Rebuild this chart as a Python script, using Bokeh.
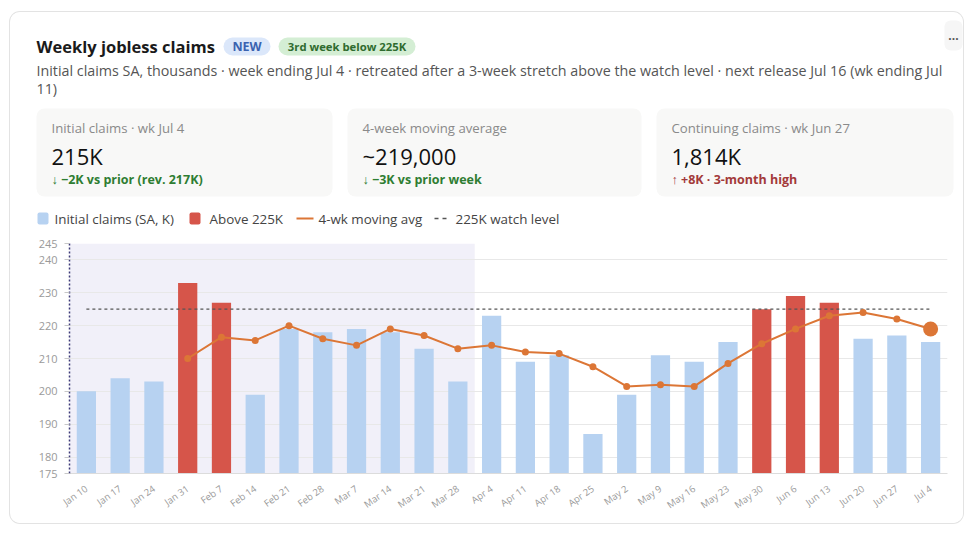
import math
from bokeh.plotting import figure
from bokeh.layouts import column
from bokeh.models import (FactorRange, Range1d, FixedTicker, BoxAnnotation, Label)
from bokeh.embed import file_html
from bokeh.resources import INLINE

# ---------------- data ----------------
weeks = ["Jan 10", "Jan 17", "Jan 24", "Jan 31", "Feb 7", "Feb 14", "Feb 21", "Feb 28",
         "Mar 7", "Mar 14", "Mar 21", "Mar 28", "Apr 4", "Apr 11", "Apr 18", "Apr 25",
         "May 2", "May 9", "May 16", "May 23", "May 30", "Jun 6", "Jun 13", "Jun 20",
         "Jun 27", "Jul 4"]
claims = [200, 204, 203, 233, 227, 199, 219, 218, 219, 218, 213, 203, 223, 209, 211, 187,
          199, 211, 209, 215, 225, 229, 227, 216, 217, 215]
ma_weeks = weeks[3:]
moving_avg = [210, 216.5, 215.5, 220, 216, 214, 219, 217, 213, 214, 212, 211.5, 207.5,
              201.5, 202, 201.5, 208.5, 214.5, 219, 223, 224, 222, 219]
watch_level = 225
y_ticks = [175, 180, 190, 200, 210, 220, 230, 240, 245]
shaded_through = "Mar 28"

legend_labels = ["Initial claims (SA, K)", "Above 225K", "4-wk moving avg", "225K watch level"]

FONT = "Open Sans"
BLUE = "#b7d2f1"
RED = "#d6554a"
ORANGE = "#dc7636"

# ---------------- header (page pixel coordinates) ----------------
CARD_L, CARD_T, CARD_R, CARD_B = 10, 12, 963, 523
HEAD_B = 232

h = figure(width=CARD_R - CARD_L, height=HEAD_B - CARD_T,
           x_range=Range1d(CARD_L, CARD_R), y_range=Range1d(HEAD_B, CARD_T),
           x_axis_type=None, y_axis_type=None, output_backend="svg", toolbar_location=None,
           min_border=0, min_border_left=0, min_border_right=0, min_border_top=0,
           min_border_bottom=0, outline_line_color=None, frame_align=False,
           background_fill_color="white", border_fill_color="white")
h.grid.visible = False


def box(l, t, r, b, fill=None, line=None, radius=8):
    h.add_layout(BoxAnnotation(left=l, right=r, top=t, bottom=b,
                               fill_color=fill, fill_alpha=1 if fill else 0,
                               line_color=line, border_radius=radius, level="underlay"))


def label(x, y, text, size, color="#222222", style="normal", align="left"):
    h.add_layout(Label(x=x, y=y, text=text, text_font=FONT, text_font_size=size,
                       text_color=color, text_font_style=style, text_align=align,
                       text_baseline="middle"))


label(36, 46, "Weekly jobless claims", "16.5px", "#1a1a1a", "bold")
box(223, 37, 270, 55, fill="#dbe7fa", radius=9)
label(246.5, 46, "NEW", "12.5px", "#3a62b0", "bold", "center")
box(278, 37, 415, 55, fill="#d4eed4", radius=9)
label(346.5, 46, "3rd week below 225K", "11.3px", "#2f6b2f", "bold", "center")
box(944, 20, 962, 50, fill="#f6f6f6", radius=6)
label(953, 35, "...", "12px", "#555555", "bold", "center")
label(36, 70, "Initial claims SA, thousands \u00b7 week ending Jul 4 \u00b7 retreated after a 3-week "
      "stretch above the watch level \u00b7 next release Jul 16 (wk ending Jul", "14.3px", "#555555")
label(36, 88, "11)", "14.3px", "#555555")

cards = [(36, 332, "Initial claims \u00b7 wk Jul 4", "215K",
          "\u2193 \u22122K vs prior (rev. 217K)", "#2e7d32"),
         (347, 641, "4-week moving average", "~219,000",
          "\u2193 \u22123K vs prior week", "#2e7d32"),
         (656, 953, "Continuing claims \u00b7 wk Jun 27", "1,814K",
          "\u2191 +8K \u00b7 3-month high", "#a33a3a")]
for l, r, t1, t2, t3, c3 in cards:
    box(l, 108, r, 196, fill="#f8f8f7", radius=8)
    label(l + 15, 127, t1, "13.2px", "#8a8a8a")
    label(l + 15, 155, t2, "22px", "#111111")
    label(l + 15, 179, t3, "12.5px", c3, "bold")

# legend swatches
LY = 218
box(37, LY - 6, 48, LY + 6, fill=BLUE, radius=2)
label(54, LY, legend_labels[0], "13.4px", "#444444")
box(189, LY - 6, 200, LY + 6, fill=RED, radius=2)
label(209, LY, legend_labels[1], "13.4px", "#444444")
h.line(x=[296, 313], y=[LY, LY], line_color=ORANGE, line_width=2)
label(318, LY, legend_labels[2], "13.4px", "#444444")
h.line(x=[434, 446], y=[LY, LY], line_color="#555555", line_width=1.3, line_dash="4 4")
label(455, LY, legend_labels[3], "13.4px", "#444444")

# ---------------- chart ----------------
FRAME_L, FRAME_T, FRAME_R, FRAME_B = 69, 243, 947, 473

p = figure(x_range=FactorRange(factors=weeks), y_range=Range1d(175, 245),
           width=CARD_R - CARD_L, height=CARD_B - HEAD_B,
           output_backend="svg", toolbar_location=None, frame_align=False,
           min_border_left=FRAME_L - CARD_L, min_border_right=CARD_R - FRAME_R,
           min_border_top=FRAME_T - HEAD_B, min_border_bottom=CARD_B - FRAME_B,
           background_fill_color="white", border_fill_color="white", outline_line_color=None)

band = BoxAnnotation(right=weeks.index(shaded_through) + 1, fill_color="#f1f0f9", fill_alpha=1,
                     line_color=None, level="image")
p.add_layout(band)

blue_w = [w for w, c in zip(weeks, claims) if c < watch_level]
blue_c = [c for c in claims if c < watch_level]
red_w = [w for w, c in zip(weeks, claims) if c >= watch_level]
red_c = [c for c in claims if c >= watch_level]

p.vbar(x=blue_w, top=blue_c, bottom=175, width=0.57, fill_color=BLUE, line_color=None)
p.vbar(x=red_w, top=red_c, bottom=175, width=0.57, fill_color=RED, line_color=None)

p.line(x=[weeks[0], weeks[-1]], y=[watch_level, watch_level], line_color="#555555",
       line_width=1.3, line_dash="3 3")

p.line(x=ma_weeks, y=moving_avg, line_color=ORANGE, line_width=2)
p.scatter(x=ma_weeks[:-1], y=moving_avg[:-1], size=7, fill_color=ORANGE, line_color=None)
p.scatter(x=ma_weeks[-1:], y=moving_avg[-1:], size=15, fill_color=ORANGE, line_color=None)

p.xgrid.visible = False
p.yaxis.ticker = FixedTicker(ticks=y_ticks)
p.ygrid.grid_line_color = "#e8e8e8"
p.yaxis.axis_line_color = "#3d3b78"
p.yaxis.axis_line_dash = "2 2"
p.yaxis.axis_line_width = 1.5
p.yaxis.major_tick_in = 0
p.yaxis.major_tick_out = 5
p.yaxis.major_tick_line_color = "#c8c8c8"
p.yaxis.minor_tick_line_color = None
p.yaxis.major_label_standoff = 7
p.yaxis.major_label_text_font = FONT
p.yaxis.major_label_text_font_size = "11px"
p.yaxis.major_label_text_color = "#9a9a9a"

p.xaxis.axis_line_color = "#dcdcdc"
p.xaxis.major_tick_line_color = None
p.xaxis.minor_tick_line_color = None
p.xaxis.major_label_orientation = math.radians(35)
p.xaxis.major_label_standoff = 8
p.xaxis.major_label_text_font = FONT
p.xaxis.major_label_text_font_size = "9.5px"
p.xaxis.major_label_text_color = "#9a9a9a"

page = column(h, p, spacing=0, margin=(CARD_T, 0, 0, CARD_L),
              styles={"box-shadow": "0 0 0 1px #e3e3e3", "border-radius": "10px",
                      "overflow": "hidden"})

open("out.html", "w").write(file_html(page, INLINE))
